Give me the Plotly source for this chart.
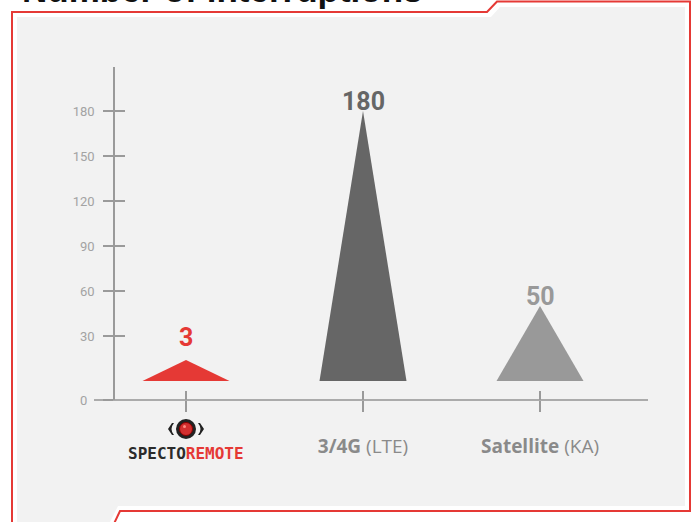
import plotly.graph_objects as go

# ---------------- data ----------------
categories = ["SpectoRemote", "3/4G (LTE)", "Satellite (KA)"]
values = [3, 180, 50]
x_tick_labels = ["", "<b>3/4G</b> (LTE)", "<b>Satellite</b> (KA)"]
y_tick_values = [30, 60, 90, 120, 150, 180]
y_tick_labels = ["30", "60", "90", "120", "150", "180"]
zero_label = "0"
title_text = "Number of interruptions"
logo_left = "SPECTO"
logo_right = "REMOTE"

# ---------------- style ----------------
bar_colors = ["#e53935", "#666666", "#999999"]
RED = "#e53935"
PANEL = "#f2f2f2"
AXIS = "#9a9a9a"
W, H = 699, 522
L, R, T, B = 94, 648, 67, 400          # plot area in pixels
PX_PER_UNIT = 1.5
BASE_GAP_PX = 19                       # gap between axis line and value 0
X_SLOPE, X_CENTER0 = 177.0, 186.0      # px per category, px of first category
HALF_W = 43.5 / X_SLOPE                # triangle half width (data units)
MIN_H = 14                             # minimum visible triangle height
LABEL_FLOOR = 23

y_lo = -BASE_GAP_PX / PX_PER_UNIT
y_hi = y_lo + (B - T) / PX_PER_UNIT
x_lo = (L - X_CENTER0) / X_SLOPE
x_hi = (R - X_CENTER0) / X_SLOPE


def px_x(px):
    return (px - L) / (R - L)


def px_y(py):
    return (B - py) / (B - T)


fig = go.Figure()

for i, (cat, v, col) in enumerate(zip(categories, values, bar_colors)):
    h = max(v, MIN_H)
    fig.add_trace(go.Scatter(
        x=[i - HALF_W, i, i + HALF_W, i - HALF_W],
        y=[0, h, 0, 0],
        mode="lines", fill="toself", fillcolor=col,
        line=dict(width=0, color=col), name=cat, hoverinfo="skip",
        showlegend=False))
    fig.add_annotation(
        x=i, y=max(h, LABEL_FLOOR) if v < MIN_H else h, xref="x", yref="y",
        text=str(v), showarrow=False, yanchor="bottom", yshift=-7,
        font=dict(family="Roboto", size=25, color=col, weight="bold"))

# dummy trace for the overlay axes (inside half of the crossing ticks)
fig.add_trace(go.Scatter(x=[0], y=[0], xaxis="x2", yaxis="y2", mode="markers",
                         marker=dict(opacity=0), hoverinfo="skip", showlegend=False))

common_x = dict(range=[x_lo, x_hi], tickmode="array", tickvals=list(range(len(categories))),
                showgrid=False, zeroline=False, tickcolor=AXIS, tickwidth=1.5,
                anchor="free", position=0, domain=[0, 1], fixedrange=True)
common_y = dict(range=[y_lo, y_hi], tickmode="array", tickvals=[y_lo] + y_tick_values,
                showgrid=False, zeroline=False, tickcolor=AXIS, tickwidth=1.5,
                anchor="free", position=px_x(114), domain=[0, 1], fixedrange=True)

fig.update_layout(
    width=W, height=H,
    margin=dict(l=L, r=W - R, t=T, b=H - B, pad=0),
    paper_bgcolor="white", plot_bgcolor=PANEL,
    showlegend=False,
    xaxis=dict(**common_x, ticks="outside", ticklen=11, ticktext=x_tick_labels,
               showline=True, linecolor="#ababab", linewidth=1.5,
               ticklabelstandoff=18,
               tickfont=dict(family="Open Sans", size=19, color="#8a8a8a")),
    xaxis2=dict(**common_x, ticks="inside", ticklen=9, overlaying="x",
                showticklabels=False, showline=False),
    yaxis=dict(**common_y, ticks="outside", ticklen=10, ticktext=[""] + y_tick_labels,
               showline=True, linecolor=AXIS, linewidth=1.5,
               ticklabelstandoff=6,
               tickfont=dict(family="Roboto", size=13, color="#a3a3a3")),
    yaxis2=dict(**common_y, ticks="inside", ticklen=10, overlaying="y",
                showticklabels=False, showline=False),
)

# "0" label sits at the axis line
fig.add_annotation(x=px_x(89), y=px_y(400), xref="paper", yref="paper", text=zero_label,
                   showarrow=False, xanchor="right", yanchor="middle",
                   font=dict(family="Roboto", size=13, color="#a3a3a3"))

# frame: grey panel and red outline
panel_pts = [(17, 530), (17, 17), (491, 17), (500, 7), (685, 7), (685, 506), (118, 506), (106, 530)]
red_pts = [(12, 530), (12, 12), (487, 12), (497, 1.5), (690, 1.5), (690, 511), (120, 511), (111, 530)]


def path_of(pts, close):
    s = "M " + " L ".join(f"{px_x(a):.5f},{px_y(b):.5f}" for a, b in pts)
    return s + (" Z" if close else "")


fig.add_shape(type="path", path=path_of(panel_pts, True), xref="paper", yref="paper",
              fillcolor=PANEL, line=dict(width=0), layer="below")
fig.add_shape(type="path", path=path_of(red_pts, False), xref="paper", yref="paper",
              line=dict(color=RED, width=2), layer="above")

# title (cut off at the top, as in the original)
fig.add_annotation(x=px_x(20), y=px_y(11.5), xref="paper", yref="paper", text=title_text,
                   showarrow=False, xanchor="left", yanchor="bottom",
                   font=dict(family="Liberation Sans", size=35, color="#111111", weight="bold"))

# logo for the first category
icon_y = px_y(429)
icon = dict(xref="x", yref="paper", xsizemode="pixel", ysizemode="pixel",
            xanchor=0, yanchor=icon_y, layer="above")
fig.add_shape(type="circle", x0=-10, x1=10, y0=-10, y1=10, fillcolor="#222222",
              line=dict(width=0), **icon)
fig.add_shape(type="circle", x0=-6.5, x1=6.5, y0=-6.5, y1=6.5, fillcolor="#d32f2f",
              line=dict(color="#8b0000", width=1), **icon)
fig.add_shape(type="circle", x0=-3, x1=0, y0=1, y1=4, fillcolor="#ff8a80",
              line=dict(width=0), **icon)
fig.add_shape(type="path", path="M -12,-6 Q -17,0 -12,6 L -14,6 L -18,0 L -14,-6 Z",
              fillcolor="#222222", line=dict(width=0), **icon)
fig.add_shape(type="path", path="M 12,-6 Q 17,0 12,6 L 14,6 L 18,0 L 14,-6 Z",
              fillcolor="#222222", line=dict(width=0), **icon)
fig.add_annotation(x=0, y=px_y(453), xref="x", yref="paper", showarrow=False,
                   yanchor="middle",
                   text=f"<span style='color:#2b2b2b'>{logo_left}</span>"
                        f"<span style='color:{RED}'>{logo_right}</span>",
                   font=dict(family="DejaVu Sans Mono", size=16, weight="bold"))

fig.write_html("out.html", config={"displayModeBar": False},
               post_script="document.body.style.margin='0';")
